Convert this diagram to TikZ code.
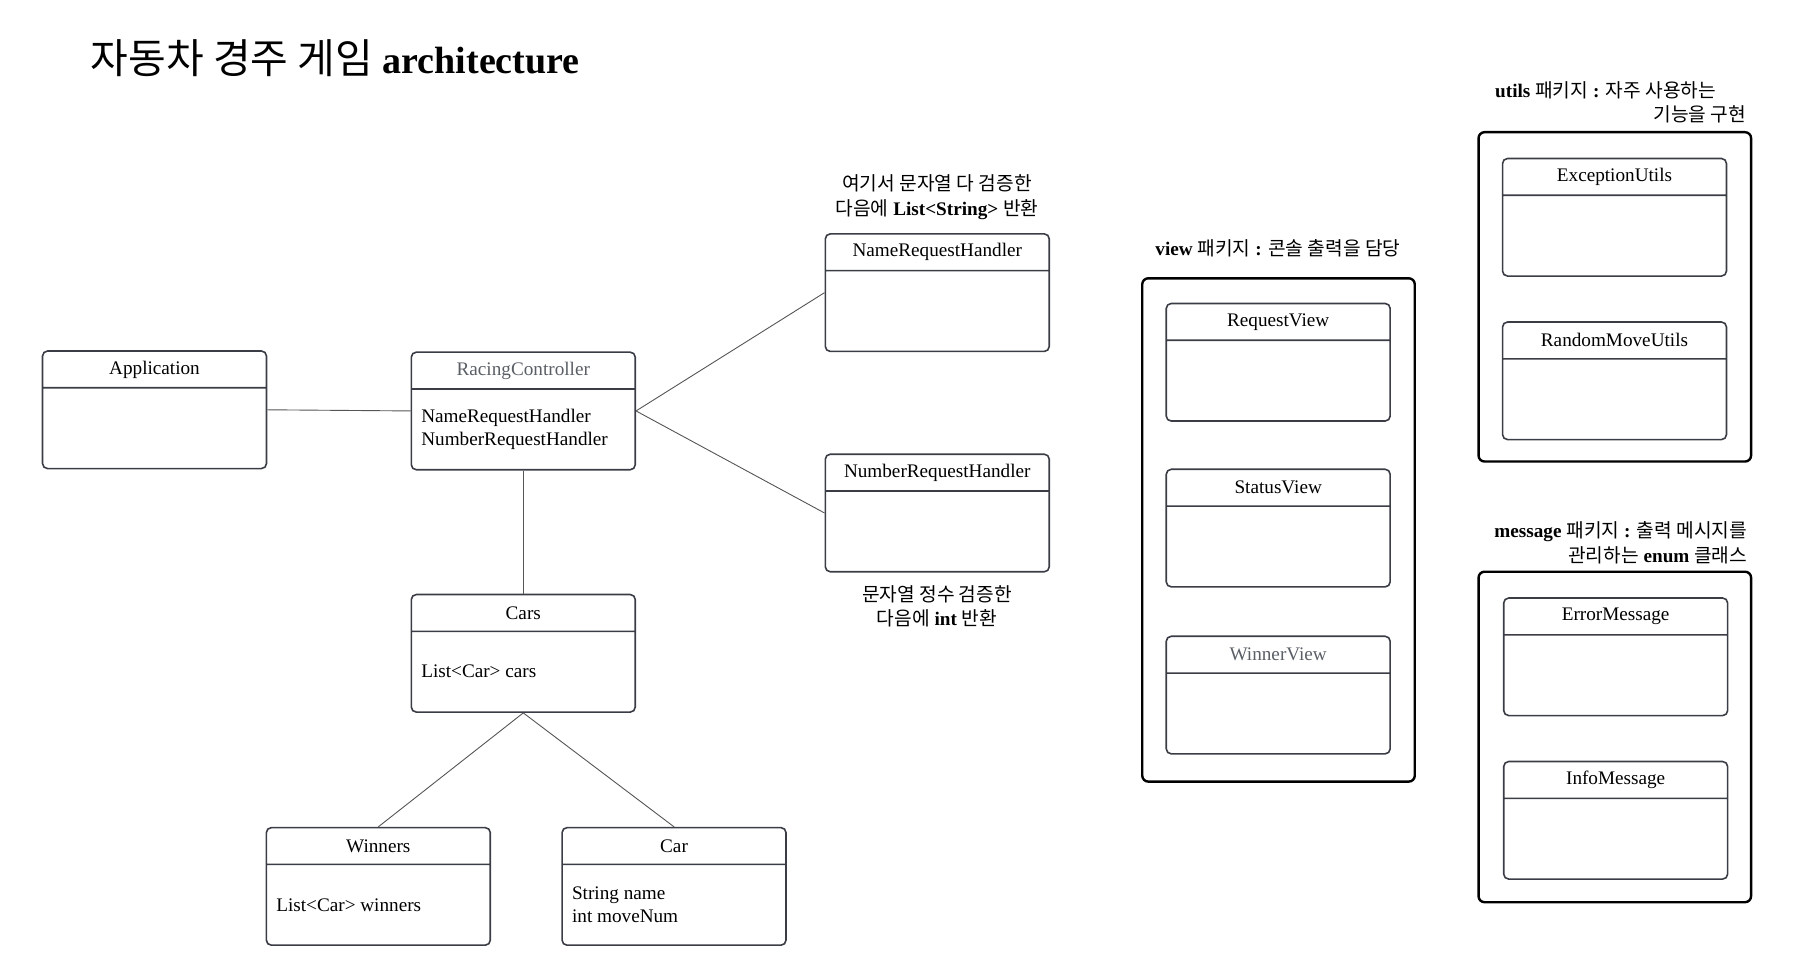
\documentclass[tikz,border=0pt]{standalone}
\usepackage{fontspec}
\setmainfont{Liberation Serif}
\newfontfamily\kr{Noto Sans CJK KR}
\usepackage{tikz}
\usetikzlibrary{shapes.multipart}
\definecolor{boxline}{HTML}{3A3D45}
\definecolor{softtext}{HTML}{5A5F66}
\definecolor{wiregray}{HTML}{555555}
\newcommand\clshead[1]{\parbox[c][17.6pt][c]{112pt}{\centering #1}}
\newcommand\clsbody[1]{\parbox[c][39.6pt][c]{112pt}{\raggedright\leftskip=5pt #1}}
\tikzstyle{cls} = [rectangle split, rectangle split parts=2, draw=boxline, line width=0.8pt, rounded corners=2.5pt, inner sep=0pt, anchor=north west, font=\fontsize{9.6}{11.6}\selectfont]
\tikzstyle{pkg} = [draw=black, line width=1.2pt, rounded corners=3pt]
\tikzstyle{wire} = [draw=wiregray, line width=0.45pt]
\tikzstyle{note} = [font=\fontsize{9.6}{12.2}\selectfont, inner sep=0pt]

\begin{document}
\begin{tikzpicture}[x=0.58pt, y=-0.58pt]
    \useasboundingbox (0,0) rectangle (1566,843);
    \node[anchor=west, inner sep=0pt, font=\fontsize{19}{23}\selectfont] (title) at (78,50) {{\kr\fontsize{20.5}{23}\selectfont 자동차 경주 게임} \textbf{architecture}};

    \node[cls] (app) at (36,302) {\clshead{Application}\nodepart{two}\clsbody{}};
    \node[cls] (ctrl) at (354,303) {\clshead{\color{softtext}RacingController}\nodepart{two}\clsbody{NameRequestHandler\\NumberRequestHandler}};
    \node[cls] (namehd) at (711,201) {\clshead{NameRequestHandler}\nodepart{two}\clsbody{}};
    \node[cls] (numhd) at (711,391) {\clshead{NumberRequestHandler}\nodepart{two}\clsbody{}};
    \node[cls] (cars) at (354,512) {\clshead{Cars}\nodepart{two}\clsbody{List<Car> cars}};
    \node[cls] (winners) at (229,713) {\clshead{Winners}\nodepart{two}\clsbody{List<Car> winners}};
    \node[cls] (car) at (484,713) {\clshead{Car}\nodepart{two}\clsbody{String name\\int moveNum}};

    \node[note, align=center] (namenote) at (808,170) {{\kr 여기서 문자열 다 검증한}\\{\kr 다음에} \textbf{List<String>} {\kr 반환}};
    \node[note, align=center] (numnote) at (808,523) {{\kr 문자열 정수 검증한}\\{\kr 다음에} \textbf{int} {\kr 반환}};

    \draw[wire] (app.east) -- (ctrl.west);
    \draw[wire] (ctrl.east) -- (namehd.west);
    \draw[wire] (ctrl.east) -- (numhd.west);
    \draw[wire] (ctrl.south) -- (cars.north);
    \draw[wire] (cars.south) -- (winners.north);
    \draw[wire] (cars.south) -- (car.north);

    \node[note] (viewlbl) at (1102,214) {\textbf{view} {\kr 패키지} \textbf{:} {\kr 콘솔 출력을 담당}};
    \draw[pkg] (985,240) rectangle (1220,674);
    \node[cls] (reqview) at (1005,261) {\clshead{RequestView}\nodepart{two}\clsbody{}};
    \node[cls] (statview) at (1005,404) {\clshead{StatusView}\nodepart{two}\clsbody{}};
    \node[cls] (winview) at (1005,548) {\clshead{\color{softtext}WinnerView}\nodepart{two}\clsbody{}};

    \node[note, anchor=east, align=right] (utilslbl) at (1506,88) {\textbf{utils} {\kr 패키지} \textbf{:} {\kr 자주 사용하는}\hspace*{15pt}\\{\kr 기능을 구현}};
    \draw[pkg] (1275,114) rectangle (1510,398);
    \node[cls] (exutils) at (1295,136) {\clshead{ExceptionUtils}\nodepart{two}\clsbody{}};
    \node[cls] (moveutils) at (1295,277) {\clshead{RandomMoveUtils}\nodepart{two}\clsbody{}};

    \node[note, anchor=east, align=right] (msglbl) at (1507,468) {\textbf{message} {\kr 패키지} \textbf{:} {\kr 출력 메시지를}\\{\kr 관리하는} \textbf{enum} {\kr 클래스}};
    \draw[pkg] (1275,493) rectangle (1510,778);
    \node[cls] (errmsg) at (1296,515) {\clshead{ErrorMessage}\nodepart{two}\clsbody{}};
    \node[cls] (infomsg) at (1296,656) {\clshead{InfoMessage}\nodepart{two}\clsbody{}};
\end{tikzpicture}
\end{document}
